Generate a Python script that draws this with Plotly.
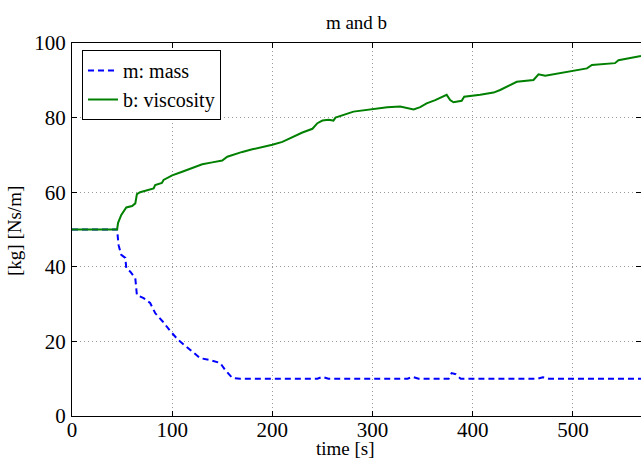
import plotly.graph_objects as go

# time samples [s] and values
t_m = [0, 45, 46.5, 49.2, 53.2, 54.2, 58.2, 63.2, 64.8, 71.5, 78, 83, 91, 98, 106,
       113, 121, 128, 138, 148, 153, 160, 168, 245, 250, 256, 335, 340, 346, 376,
       379, 383, 388, 465, 470, 476, 568]
m_vals = [50, 50, 45.8, 43.2, 42.4, 39.6, 38.7, 36.9, 32.4, 31.6, 30.3, 27.6, 25.2,
          22.8, 20.4, 18.8, 17.2, 15.5, 15.0, 14.2, 12.3, 10.2, 10.0, 10.0, 10.5,
          10.0, 10.0, 10.5, 10.0, 10.0, 11.5, 11.2, 10.0, 10.0, 10.4, 10.0, 10.0]

t_b = [0, 45, 46, 49.2, 54.2, 60, 63.2, 64.8, 68, 74.8, 81.5, 83, 89.7, 91.4, 100,
       110, 120, 130, 140, 150, 155, 160, 170, 180, 190, 200, 210, 220, 230, 240,
       245, 250, 256, 261, 263, 281, 298, 314.7, 327.6, 341, 347.6, 354, 362.6,
       374, 377.5, 380.8, 389, 391.5, 407.5, 420.8, 427.4, 437.4, 444, 460.7,
       465.7, 472.4, 500.6, 514, 519, 542, 545.5, 557, 568]
b_vals = [50, 50, 51.8, 53.9, 55.9, 56.3, 57.0, 59.5, 60.0, 60.6, 61.0, 61.9, 62.5,
          63.3, 64.5, 65.5, 66.5, 67.5, 68.0, 68.5, 69.5, 70.0, 70.8, 71.5, 72.0,
          72.7, 73.5, 74.8, 76.0, 77.0, 78.5, 79.2, 79.4, 79.2, 80.0, 81.6, 82.2,
          82.8, 83.0, 82.2, 82.8, 83.8, 84.7, 86.1, 84.7, 84.1, 84.5, 85.6, 86.1,
          86.7, 87.4, 88.7, 89.6, 90.1, 91.6, 91.2, 92.6, 93.2, 94.1, 94.6, 95.4,
          95.9, 96.5]

x_ticks = [0, 100, 200, 300, 400, 500]
y_ticks = [0, 20, 40, 60, 80, 100]

FONT = "Liberation Serif, Times New Roman, serif"
W, H = 641, 460
ML, MR, MT, MB = 72, 0, 43, 44

fig = go.Figure()
fig.add_trace(go.Scatter(x=t_m, y=m_vals, mode="lines", name="m: mass",
                         line=dict(color="#0000ff", width=2, dash="6px,4px")))
fig.add_trace(go.Scatter(x=t_b, y=b_vals, mode="lines", name="b: viscosity",
                         line=dict(color="#008000", width=2)))

axis_common = dict(showline=True, linecolor="black", linewidth=1, mirror="ticks",
                   ticks="inside", ticklen=5, tickcolor="black", tickwidth=1,
                   showgrid=True, gridcolor="#9a9a9a", griddash="1px,3px", gridwidth=1,
                   zeroline=False, automargin=False,
                   tickfont=dict(family=FONT, size=21, color="black"))

pw = W - ML - MR
ph = H - MT - MB


def px(xp):
    return (xp - ML) / pw


def py(yp):
    return (H - MB - yp) / ph


fig.update_layout(
    width=W, height=H,
    margin=dict(l=ML, r=MR, t=MT, b=MB),
    paper_bgcolor="white", plot_bgcolor="white",
    title=dict(text="m and b", x=0.5, xref="paper", y=1 - 22 / H, yref="container",
               xanchor="center", yanchor="middle",
               font=dict(family=FONT, size=19, color="black")),
    xaxis=dict(range=[0, 568], tickvals=x_ticks, ticklabelstandoff=-5, **axis_common),
    yaxis=dict(range=[0, 100], tickvals=y_ticks, ticklabelstandoff=1, **axis_common),
    legend=dict(x=px(82), y=py(50), xanchor="left", yanchor="top",
                bgcolor="white", bordercolor="black", borderwidth=1,
                font=dict(family=FONT, size=20, color="black"),
                tracegroupgap=0),
    showlegend=True,
    annotations=[
        dict(text="time [s]", xref="paper", yref="paper",
             x=px(345), y=py(448), xanchor="center", yanchor="middle",
             showarrow=False, font=dict(family=FONT, size=19, color="black")),
        dict(text="[kg] [Ns/m]", xref="paper", yref="paper", textangle=-90,
             x=px(14), y=py(231), xanchor="center", yanchor="middle",
             showarrow=False, font=dict(family=FONT, size=19, color="black")),
    ],
)

fig.write_html("out.html", config={"displayModeBar": False},
               post_script="document.body.style.margin='0';document.body.style.overflow='hidden';")
